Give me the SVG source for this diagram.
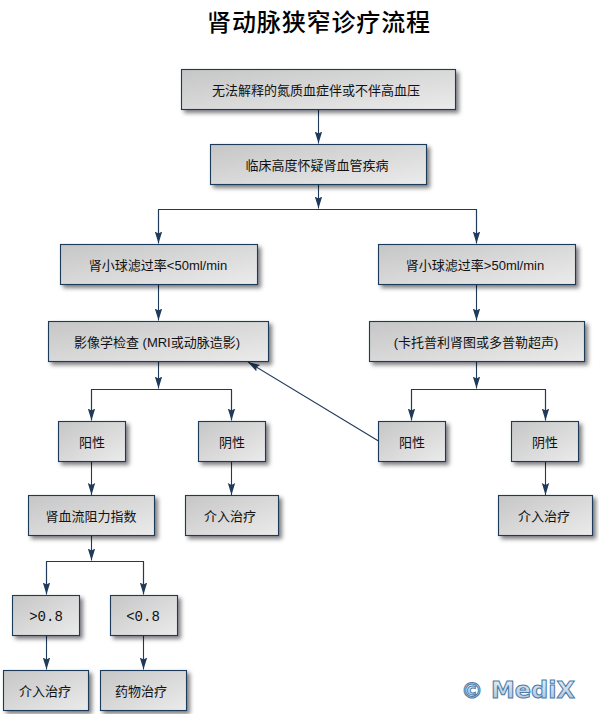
<svg xmlns="http://www.w3.org/2000/svg" width="599" height="714" viewBox="0 0 599 714">
<style>
.b{fill:url(#g);stroke:#1f3a5a;stroke-width:1.1;filter:url(#s)}
.t{font-family:"Liberation Sans","Noto Sans CJK SC",sans-serif;font-size:13px;fill:#111;text-anchor:middle}
.m{font-family:"Liberation Mono","DejaVu Sans Mono",monospace;font-size:14px;fill:#111;text-anchor:middle}
.c{fill:none;stroke:#1f3a5a;stroke-width:1.1}
.a{marker-end:url(#h)}
.w{font-family:"DejaVu Sans",sans-serif;font-weight:700;fill:url(#w);stroke:#4d7ba8;stroke-width:1}
</style>
<defs>
<linearGradient id="g" x1="0" y1="0" x2="1" y2="1"><stop offset="0" stop-color="#c6c6c6"/><stop offset="1" stop-color="#ebebeb"/></linearGradient>
<linearGradient id="w" x1="0" y1="0" x2="0" y2="1"><stop offset="0" stop-color="#eaf2fa"/><stop offset="1" stop-color="#a4c0dc"/></linearGradient>
<filter id="s" x="-10%" y="-10%" width="125%" height="140%"><feDropShadow dx="3" dy="3" stdDeviation="2" flood-color="#000" flood-opacity=".5"/></filter>
<marker id="h" markerUnits="userSpaceOnUse" markerWidth="13" markerHeight="10" refX="12" refY="4" orient="auto"><path d="M0 0.3L12 4L0 7.7L2 4Z" fill="#1f3a5a"/></marker>
</defs>
<text x="318.5" y="31" font-family="Noto Sans CJK SC,sans-serif" font-size="24" font-weight="500" text-anchor="middle" textLength="223" fill="#000">肾动脉狭窄诊疗流程</text>
<g id="connectors">
<path class="c a" d="M318.5 109.5V143.5"/>
<path class="c a" d="M318.5 184.5V208.5"/>
<path class="c" d="M158.5 243V209.5H476.5V243"/>
<path class="c a" d="M158.5 209.5V243.5"/>
<path class="c a" d="M476.5 209.5V243.5"/>
<path class="c a" d="M158.5 284.5V320.5"/>
<path class="c a" d="M476.5 284.5V320.5"/>
<path class="c a" d="M158.5 361.5V388.5"/>
<path class="c" d="M91.5 420V389.5H231.5V420"/>
<path class="c a" d="M91.5 389.5V420.5"/>
<path class="c a" d="M231.5 389.5V420.5"/>
<path class="c a" d="M476.5 361.5V388.5"/>
<path class="c" d="M411.5 420V389.5H545.5V420"/>
<path class="c a" d="M411.5 389.5V420.5"/>
<path class="c a" d="M545.5 389.5V420.5"/>
<path class="c a" d="M378.5 441L248 362"/>
<path class="c a" d="M91.5 461.5V495"/>
<path class="c a" d="M231.5 461.5V495"/>
<path class="c a" d="M545.5 461.5V495"/>
<path class="c a" d="M91.5 535.5V560.5"/>
<path class="c" d="M46.5 594V561.5H143.5V594"/>
<path class="c a" d="M46.5 561.5V594.5"/>
<path class="c a" d="M143.5 561.5V594.5"/>
<path class="c a" d="M46.5 635.5V669.5"/>
<path class="c a" d="M143.5 635.5V669.5"/>
</g>
<g id="n1"><rect class="b" x="181.5" y="69.5" width="274" height="40"/><text class="t" x="316" y="95">无法解释的氮质血症伴或不伴高血压</text></g>
<g id="n2"><rect class="b" x="210.5" y="144.5" width="216" height="40"/><text class="t" x="317" y="170">临床高度怀疑肾血管疾病</text></g>
<g id="n3"><rect class="b" x="60.5" y="244.5" width="197" height="40"/><text class="t" x="158" y="270">肾小球滤过率&lt;50ml/min</text></g>
<g id="n4"><rect class="b" x="378.5" y="244.5" width="197" height="40"/><text class="t" x="475" y="270">肾小球滤过率&gt;50ml/min</text></g>
<g id="n5"><rect class="b" x="48.5" y="321.5" width="220" height="40"/><text class="t" x="157" y="347">影像学检查 (MRI或动脉造影)</text></g>
<g id="n6"><rect class="b" x="369.5" y="321.5" width="215" height="40"/><text class="t" x="476" y="347">(卡托普利肾图或多普勒超声)</text></g>
<g id="n7"><rect class="b" x="58.5" y="421.5" width="67" height="40"/><text class="t" x="92" y="447">阳性</text></g>
<g id="n8"><rect class="b" x="198.5" y="421.5" width="67" height="40"/><text class="t" x="232" y="447">阴性</text></g>
<g id="n9"><rect class="b" x="378.5" y="421.5" width="67" height="40"/><text class="t" x="412" y="447">阳性</text></g>
<g id="n10"><rect class="b" x="511.5" y="421.5" width="67" height="40"/><text class="t" x="545" y="447">阴性</text></g>
<g id="n11"><rect class="b" x="28.5" y="495.5" width="126" height="40"/><text class="t" x="91" y="521">肾血流阻力指数</text></g>
<g id="n12"><rect class="b" x="185.5" y="495.5" width="93" height="40"/><text class="t" x="230" y="521">介入治疗</text></g>
<g id="n13"><rect class="b" x="498.5" y="495.5" width="94" height="40"/><text class="t" x="544" y="521">介入治疗</text></g>
<g id="n14"><rect class="b" x="12.5" y="595.5" width="67" height="40"/><text class="m" x="46" y="621">&gt;0.8</text></g>
<g id="n15"><rect class="b" x="110.5" y="595.5" width="67" height="40"/><text class="m" x="143" y="621">&lt;0.8</text></g>
<g id="n16"><rect class="b" x="3.5" y="670.5" width="85" height="40"/><text class="t" x="45" y="696">介入治疗</text></g>
<g id="n17"><rect class="b" x="100.5" y="670.5" width="86" height="40"/><text class="t" x="141" y="696">药物治疗</text></g>
<g id="watermark"><text class="w" x="461" y="698" font-size="22">©</text><text class="w" x="491" y="698" font-size="23" textLength="84" lengthAdjust="spacingAndGlyphs">MediX</text></g>
</svg>
